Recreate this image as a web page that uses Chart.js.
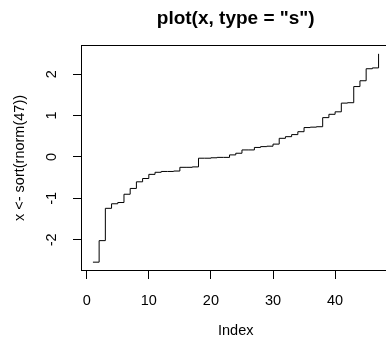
<!DOCTYPE html>
<html>
<head>
<meta charset="utf-8">
<title>plot(x, type = "s")</title>
<script src="https://cdn.jsdelivr.net/npm/chart.js@4/dist/chart.umd.min.js"></script>
<style>
  html, body { margin: 0; padding: 0; background: #fff; }
  #wrap { width: 386px; height: 338px; overflow: hidden; }
  canvas { display: block; }
</style>
</head>
<body>
<div id="wrap"><canvas id="stepChart" width="392" height="338"></canvas></div>
<script>
// sort(rnorm(47)) — values
const xValues = [
  -2.54, -2.02, -1.24, -1.13, -1.10, -0.90, -0.76, -0.60, -0.52, -0.42,
  -0.37, -0.35, -0.35, -0.34, -0.25, -0.25, -0.24, -0.03, -0.03, -0.02,
  -0.01, -0.01, 0.05, 0.09, 0.17, 0.17, 0.23, 0.25, 0.26, 0.31,
  0.45, 0.49, 0.54, 0.61, 0.71, 0.72, 0.73, 0.95, 1.03, 1.09,
  1.30, 1.31, 1.70, 1.84, 2.13, 2.15, 2.49
];
const xTicks = [0, 10, 20, 30, 40];
const yTicks = [-2, -1, 0, 1, 2];

const mainTitle = 'plot(x, type = "s")';
const xLabel = 'Index';
const yLabel = 'x <- sort(rnorm(47))';

const FONT = '"Liberation Sans", Arial, Helvetica, sans-serif';
const AXIS_SIZE = 14.5;

// R pads the data range by 4% on each side
const n = xValues.length;
const xPad = (n - 1) * 0.04;
const yMinData = Math.min(...xValues), yMaxData = Math.max(...xValues);
const yPad = (yMaxData - yMinData) * 0.04;

const points = xValues.map((v, i) => ({ x: i + 1, y: v }));

// box around the plot, rotated y tick labels and the main title
const rFrame = {
  id: 'rFrame',
  afterDraw(chart) {
    const { ctx, chartArea: a, scales: { y } } = chart;
    ctx.save();
    ctx.strokeStyle = '#000';
    ctx.lineWidth = 1;
    ctx.strokeRect(a.left, a.top, a.right - a.left, a.bottom - a.top);

    ctx.fillStyle = '#000';
    ctx.font = AXIS_SIZE + 'px ' + FONT;
    ctx.textAlign = 'center';
    ctx.textBaseline = 'alphabetic';
    yTicks.forEach(v => {
      ctx.save();
      ctx.translate(a.left - 26, y.getPixelForValue(v));
      ctx.rotate(-Math.PI / 2);
      ctx.fillText(String(v), 0, 0);
      ctx.restore();
    });

    ctx.font = 'bold 19px ' + FONT;
    ctx.fillText(mainTitle, (a.left + a.right) / 2, 24);
    ctx.restore();
  }
};

const axisGrid = {
  display: true,
  drawOnChartArea: false,
  drawTicks: true,
  tickLength: 8.5,
  color: '#000',
  tickColor: '#000',
  lineWidth: 1
};

new Chart(document.getElementById('stepChart'), {
  type: 'line',
  data: {
    datasets: [{
      data: points,
      borderColor: '#000',
      borderWidth: 1,
      pointRadius: 0,
      stepped: 'before',
      fill: false
    }]
  },
  options: {
    responsive: false,
    animation: false,
    devicePixelRatio: 1,
    layout: { padding: { top: 45.5, right: 2, bottom: 0, left: 0 } },
    plugins: {
      legend: { display: false },
      tooltip: { enabled: false },
      title: { display: false }
    },
    scales: {
      x: {
        type: 'linear',
        min: 1 - xPad,
        max: n + xPad,
        afterBuildTicks: s => { s.ticks = xTicks.map(v => ({ value: v })); },
        afterFit: s => { s.height = 67.5; },
        grid: axisGrid,
        border: { display: false },
        ticks: {
          color: '#000',
          font: { family: FONT, size: AXIS_SIZE },
          padding: 13,
          maxRotation: 0,
          autoSkip: false
        },
        title: {
          display: true,
          text: xLabel,
          color: '#000',
          font: { family: FONT, size: AXIS_SIZE, lineHeight: 1 },
          padding: { top: 0, bottom: 0 }
        }
      },
      y: {
        min: yMinData - yPad,
        max: yMaxData + yPad,
        afterBuildTicks: s => { s.ticks = yTicks.map(v => ({ value: v })); },
        afterFit: s => { s.width = 81.5; },
        grid: axisGrid,
        border: { display: false },
        ticks: { display: false },
        title: {
          display: true,
          text: yLabel,
          color: '#000',
          font: { family: FONT, size: AXIS_SIZE },
          padding: { top: 11.3, bottom: 0 }
        }
      }
    }
  },
  plugins: [rFrame]
});
</script>
</body>
</html>
